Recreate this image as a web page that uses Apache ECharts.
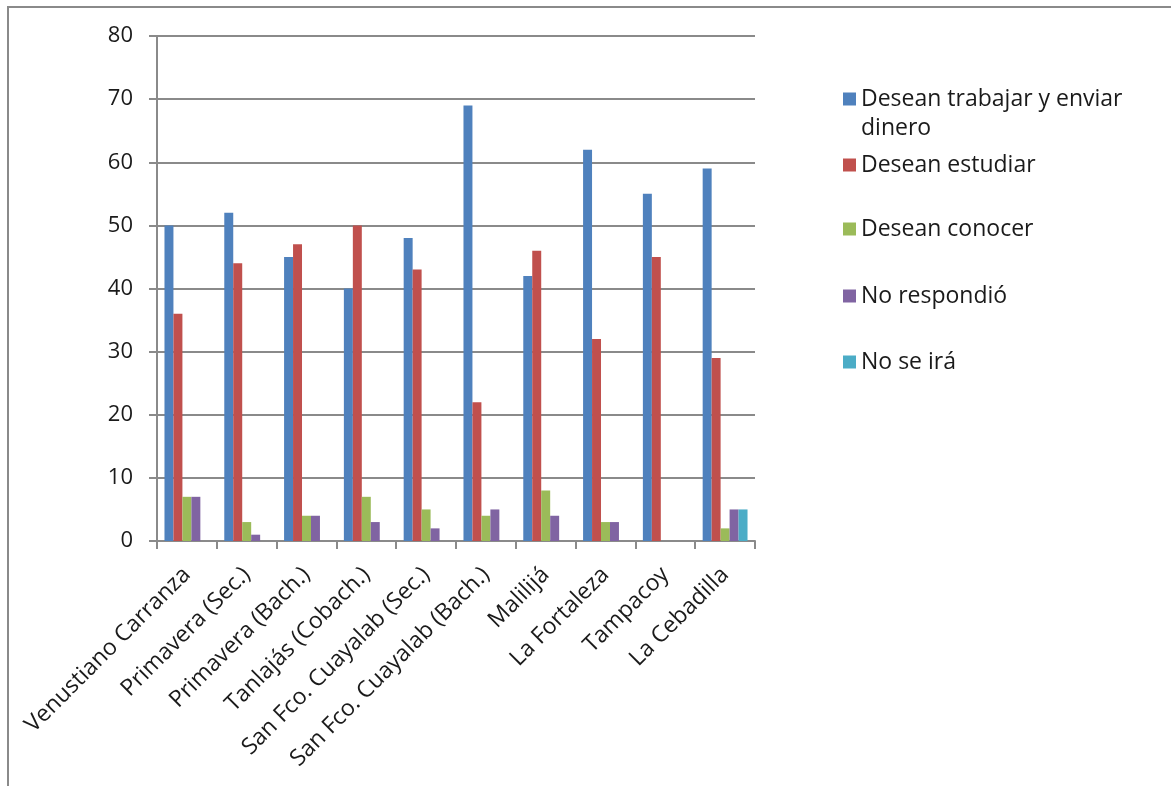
<!DOCTYPE html>
<html>
<head>
<meta charset="utf-8">
<script src="https://cdn.jsdelivr.net/npm/echarts@6/dist/echarts.min.js"></script>
<style>
  html, body { margin: 0; padding: 0; background: #fff; }
  #chart { width: 1171px; height: 786px; }
</style>
</head>
<body>
<div id="chart"></div>
<script>
// Localidades / escuelas encuestadas
const categories = [
  'Venustiano Carranza', 'Primavera (Sec.)', 'Primavera (Bach.)', 'Tanlajás (Cobach.)',
  'San Fco. Cuayalab (Sec.)', 'San Fco. Cuayalab (Bach.)', 'Malilijá', 'La Fortaleza',
  'Tampacoy', 'La Cebadilla'
];

// Respuestas por localidad
const trabajar   = [50, 52, 45, 40, 48, 69, 42, 62, 55, 59];
const estudiar   = [36, 44, 47, 50, 43, 22, 46, 32, 45, 29];
const conocer    = [7, 3, 4, 7, 5, 4, 8, 3, 0, 2];
const noRespondio = [7, 1, 4, 3, 2, 5, 4, 3, 0, 5];
const noSeIra    = [0, 0, 0, 0, 0, 0, 0, 0, 0, 5];

const seriesNames = ['Desean trabajar y enviar dinero', 'Desean estudiar', 'Desean conocer', 'No respondió', 'No se irá'];
const seriesData = [trabajar, estudiar, conocer, noRespondio, noSeIra];
const colors = ['#4F81BD', '#C0504D', '#9BBB59', '#8064A2', '#4BACC6'];

const yTicks = [0, 10, 20, 30, 40, 50, 60, 70, 80];

const FONT = 'Open Sans';
const FS = 23;
const TEXT = '#1a1a1a';
const GRID = '#8a8a8a';

const chart = echarts.init(document.getElementById('chart'), null, { renderer: 'canvas' });

// Legend entries stacked on the right, one legend block per series.
// The first entry wraps onto two lines; a leading blank line keeps its
// first line level with the colour swatch.
const legendCenters = [99, 165, 229, 296, 362];
const LH = 29;
const legends = seriesNames.map((name, i) => {
  const twoLine = i === 0;
  return {
    data: [name],
    orient: 'vertical',
    left: 843,
    top: twoLine ? legendCenters[i] - LH * 1.5 : legendCenters[i] - LH / 2,
    padding: 0,
    itemWidth: 13,
    itemHeight: 13,
    icon: 'rect',
    selectedMode: false,
    formatter: twoLine ? () => '\u00a0\nDesean trabajar y enviar\ndinero' : undefined,
    textStyle: { fontFamily: FONT, fontSize: FS, color: TEXT, lineHeight: LH }
  };
});

chart.setOption({
  animation: false,
  color: colors,
  textStyle: { fontFamily: FONT },
  grid: { left: 157, right: 416, top: 36, bottom: 245, containLabel: false },
  legend: legends,
  xAxis: {
    type: 'category',
    data: categories,
    boundaryGap: true,
    axisLine: { show: true, lineStyle: { color: GRID, width: 2 } },
    axisTick: { show: true, length: 8, alignWithLabel: false, lineStyle: { color: GRID, width: 2 } },
    axisLabel: {
      interval: 0, rotate: 45, margin: 30,
      fontFamily: FONT, fontSize: FS, color: TEXT
    },
    splitLine: { show: false }
  },
  yAxis: {
    type: 'value',
    min: yTicks[0],
    max: yTicks[yTicks.length - 1],
    interval: 10,
    axisLine: { show: true, lineStyle: { color: GRID, width: 2 } },
    axisTick: { show: true, length: 8, lineStyle: { color: GRID, width: 2 } },
    axisLabel: { margin: 24, fontFamily: FONT, fontSize: 22, color: TEXT },
    splitLine: { show: true, lineStyle: { color: GRID, width: 2 } }
  },
  series: seriesNames.map((name, i) => ({
    name: name,
    type: 'bar',
    data: seriesData[i],
    barGap: '0%',
    barCategoryGap: '25%',
    itemStyle: { color: colors[i] }
  })),
  graphic: [{
    type: 'polyline',
    silent: true,
    shape: { points: [[8, 786], [8, 7], [1171, 7]] },
    style: { stroke: '#8a8a8a', lineWidth: 2, fill: null }
  }]
});
</script>
</body>
</html>
